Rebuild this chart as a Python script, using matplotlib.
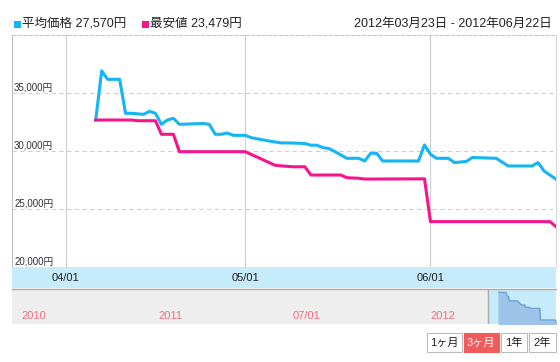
import matplotlib
matplotlib.use('Agg')
import matplotlib.pyplot as plt
import matplotlib.dates as mdates
import matplotlib.transforms as mtrans
from matplotlib.patches import Rectangle
import numpy as np

plt.rcParams['font.family'] = ['Liberation Sans', 'Noto Sans CJK JP', 'DejaVu Sans']

# ---------------- data ----------------
avg_dates = ['2012-04-06', '2012-04-07', '2012-04-08', '2012-04-10', '2012-04-11', '2012-04-12',
             '2012-04-14', '2012-04-15', '2012-04-16', '2012-04-17', '2012-04-18', '2012-04-19',
             '2012-04-20', '2012-04-24', '2012-04-25', '2012-04-26', '2012-04-27', '2012-04-28',
             '2012-04-29', '2012-05-01', '2012-05-02', '2012-05-05', '2012-05-07', '2012-05-09',
             '2012-05-11', '2012-05-12', '2012-05-13', '2012-05-14', '2012-05-15', '2012-05-16',
             '2012-05-18', '2012-05-20', '2012-05-21', '2012-05-22', '2012-05-23', '2012-05-24',
             '2012-05-30', '2012-05-31', '2012-06-01', '2012-06-02', '2012-06-04', '2012-06-05',
             '2012-06-07', '2012-06-08', '2012-06-12', '2012-06-14', '2012-06-18', '2012-06-19',
             '2012-06-20', '2012-06-22']
avg_values = [32670, 36900, 36180, 36180, 33250, 33250,
              33160, 33420, 33250, 32300, 32670, 32820,
              32300, 32370, 32300, 31440, 31440, 31550,
              31350, 31350, 31150, 30860, 30700, 30690,
              30640, 30500, 30500, 30290, 30210, 29950,
              29370, 29370, 29140, 29800, 29800, 29140,
              29140, 30520, 29720, 29370, 29370, 29000,
              29100, 29440, 29370, 28710, 28710, 29000,
              28280, 27570]

min_dates = ['2012-04-06', '2012-04-12', '2012-04-13', '2012-04-16', '2012-04-17', '2012-04-19',
             '2012-04-20', '2012-05-01', '2012-05-02', '2012-05-06', '2012-05-07', '2012-05-09',
             '2012-05-11', '2012-05-12', '2012-05-17', '2012-05-18', '2012-05-20', '2012-05-21',
             '2012-05-31', '2012-06-01', '2012-06-21', '2012-06-22']
min_values = [32670, 32670, 32610, 32610, 31440, 31440,
              29940, 29940, 29710, 28770, 28720, 28640,
              28640, 27930, 27930, 27700, 27650, 27580,
              27600, 23910, 23910, 23479]

y_ticks = [20000, 25000, 30000, 35000]
y_tick_labels = ['20,000円', '25,000円', '30,000円', '35,000円']
x_ticks = ['2012-04-01', '2012-05-01', '2012-06-01']
x_tick_labels = ['04/01', '05/01', '06/01']
nav_ticks = ['2010-07-01', '2011-01-01', '2011-07-01', '2012-01-01']
nav_labels = ['2010', '2011', '07/01', '2012']
buttons = ['1ヶ月', '3ヶ月', '1年', '2年']
legend_labels = ['平均価格 27,570円', '最安値 23,479円']
range_text = '2012年03月23日 - 2012年06月22日'

view_start, view_end = '2012-03-23', '2012-06-22'
nav_start, nav_end = '2010-06-23', '2012-06-22'

# ---------------- styles ----------------
BLUE = '#13b6f2'
PINK = '#f5148c'
W, H = 560, 362


def d(s):
    return mdates.datestr2num(s)


def fx(px):
    return px / W


def fy(py):
    return 1 - py / H


fig = plt.figure(figsize=(W / 100, H / 100), dpi=100)
fig.patch.set_facecolor('white')

L, R = 12, 556
# main axes
top, bot = 35, 267
ax = fig.add_axes([fx(L), fy(bot), fx(R - L), (bot - top) / H])
ax.set_xlim(d(view_start), d(view_end))
ax.set_ylim(20000, 40000)
ax.plot([d(s) for s in avg_dates], avg_values, color=BLUE, lw=2.2, solid_joinstyle='round', zorder=3)
ax.plot([d(s) for s in min_dates], min_values, color=PINK, lw=2.2, solid_joinstyle='round', zorder=3)
for v in y_ticks[1:]:
    ax.axhline(v, color='#d0d0d0', lw=0.8, ls=(0, (4, 3)), zorder=1)
for s in x_ticks:
    ax.axvline(d(s), color='#d0d0d0', lw=0.9, zorder=1)
trans = mtrans.blended_transform_factory(ax.transAxes, ax.transData)
for v, lab in zip(y_ticks, y_tick_labels):
    ax.text(0.004, v, lab, transform=trans, fontsize=7, color='#333333',
            ha='left', va='bottom', zorder=4,
            bbox=dict(facecolor='none', edgecolor='none', pad=1))
ax.set_xticks([])
ax.set_yticks([])
for sp in ['left']:
    ax.spines[sp].set_color('#c0c0c0')
ax.spines['right'].set_color('#d8d8d8')
ax.spines['top'].set_color('#c8c8c8')
ax.spines['top'].set_linestyle((0, (3, 2)))
ax.spines['bottom'].set_visible(False)

# x-axis band
band_top, band_bot = 267, 288
axb = fig.add_axes([fx(L), fy(band_bot), fx(R - L), (band_bot - band_top) / H])
axb.set_facecolor('#c6ebfb')
axb.set_xlim(d(view_start), d(view_end))
axb.set_ylim(0, 1)
axb.set_xticks([])
axb.set_yticks([])
for sp in axb.spines.values():
    sp.set_visible(False)
for s, lab in zip(x_ticks, x_tick_labels):
    axb.text(d(s), 0.48, lab, fontsize=8, color='#222222', ha='center', va='center')

# navigator
nav_top, nav_bot = 289, 324
axn = fig.add_axes([fx(L), fy(nav_bot), fx(R - L), (nav_bot - nav_top) / H])
axn.set_facecolor('#eeeeee')
axn.set_xlim(d(nav_start), d(nav_end))
axn.set_ylim(22640, 33710)
axn.axvspan(d(view_start), d(view_end), color='#c6ebfb', zorder=0)
axn.axvline(d(view_start), color='#aaaaaa', lw=1, zorder=2)
md = [d(s) for s in min_dates]
axn.fill_between(md, min_values, 22640, step=None, color='#9dc3e8', zorder=1)
axn.plot(md, min_values, color='#6d9fd4', lw=0.9, zorder=2)
ntrans = mtrans.blended_transform_factory(axn.transData, axn.transAxes)
offset = mtrans.ScaledTranslation(3 / 100, 0, fig.dpi_scale_trans)
for s, lab in zip(nav_ticks, nav_labels):
    axn.text(d(s), 0.22, lab, transform=ntrans + offset, fontsize=8, color='#f36d7f',
             ha='left', va='center')
axn.set_xticks([])
axn.set_yticks([])
for sp in axn.spines.values():
    sp.set_visible(False)
axn.spines['top'].set_visible(True)
axn.spines['top'].set_color('#aaaaaa')
axn.spines['top'].set_linewidth(1.0)

# legend / header
fig.patches.append(Rectangle((fx(14), fy(28)), fx(6.5), 7 / H, transform=fig.transFigure,
                             facecolor=BLUE, edgecolor='none'))
fig.text(fx(22.5), fy(24), legend_labels[0], fontsize=9, color='#222222', ha='left', va='center')
fig.patches.append(Rectangle((fx(142), fy(28)), fx(6.5), 7 / H, transform=fig.transFigure,
                             facecolor=PINK, edgecolor='none'))
fig.text(fx(150.5), fy(24), legend_labels[1], fontsize=9, color='#222222', ha='left', va='center')
fig.text(fx(552), fy(24), range_text, fontsize=9, color='#222222', ha='right', va='center')

# range buttons
btn_x = [(427, 461.5), (464, 498.5), (501, 526.5), (529, 555.5)]
by0, by1 = 333, 352
for i, ((x0, x1), lab) in enumerate(zip(btn_x, buttons)):
    active = (i == 1)
    fig.patches.append(Rectangle((fx(x0), fy(by1)), fx(x1 - x0), (by1 - by0) / H,
                                 transform=fig.transFigure,
                                 facecolor='#f25b5b' if active else 'white',
                                 edgecolor='#f25b5b' if active else '#bbbbbb', lw=0.8))
    fig.text(fx((x0 + x1) / 2), fy((by0 + by1) / 2), lab, fontsize=8,
             color='white' if active else '#222222', ha='center', va='center')

fig.savefig('out.png', dpi=100, facecolor='white')
